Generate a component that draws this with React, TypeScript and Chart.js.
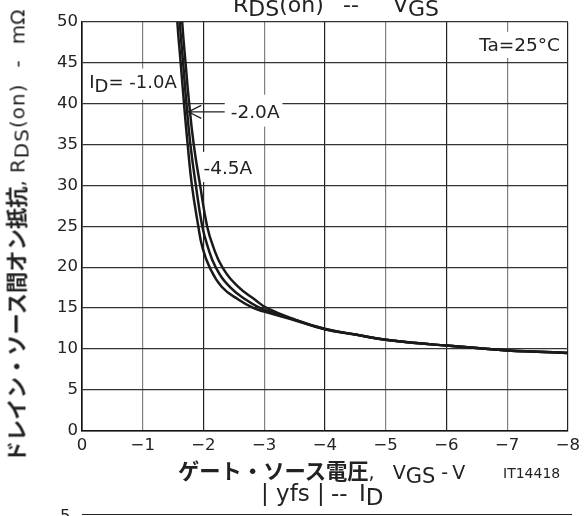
import React, { useEffect, useRef } from "react";
import { Chart, registerables } from "chart.js";

Chart.register(...registerables);

// Curve ID = -1.0A
const vgs1A = [-1.53, -1.57, -1.625, -1.68, -1.74, -1.81, -1.915, -1.98, -2.1, -2.3, -2.58, -2.82, -3.0, -3.5, -4.0, -4.5, -5.0, -5.5, -6.0, -6.5, -7.0, -7.5, -8.0];
const rds1A = [56, 50, 45, 40, 35, 30, 25, 22.5, 20, 17.6, 16, 15, 14.55, 13.5, 12.4, 11.75, 11.1, 10.7, 10.4, 10.1, 9.8, 9.65, 9.5];
// Curve ID = -2.0A
const vgs2A = [-1.57, -1.61, -1.665, -1.72, -1.785, -1.875, -1.98, -2.07, -2.2, -2.43, -2.7, -2.93, -3.0, -3.5, -4.0, -4.5, -5.0, -5.5, -6.0, -6.5, -7.0, -7.5, -8.0];
const rds2A = [56, 50, 45, 40, 35, 30, 25, 22.5, 20, 17.6, 16, 15, 14.8, 13.55, 12.4, 11.75, 11.1, 10.7, 10.4, 10.1, 9.8, 9.65, 9.5];
// Curve ID = -4.5A
const vgs45A = [-1.61, -1.65, -1.705, -1.765, -1.84, -1.945, -2.06, -2.16, -2.31, -2.57, -2.85, -3.04, -3.5, -4.0, -4.5, -5.0, -5.5, -6.0, -6.5, -7.0, -7.5, -8.0];
const rds45A = [56, 50, 45, 40, 35, 30, 25, 22.5, 20, 17.6, 16, 15, 13.6, 12.45, 11.75, 11.1, 10.7, 10.4, 10.1, 9.8, 9.65, 9.5];

const xTicks = [0, -1, -2, -3, -4, -5, -6, -7, -8];
const yTicks = [0, 5, 10, 15, 20, 25, 30, 35, 40, 45, 50];

const FONT = '"DejaVu Sans", Verdana, sans-serif';
const JP = '"Noto Sans CJK JP", "Noto Sans CJK SC", sans-serif';

const labelPlugin = {
  id: "curveLabels",
  beforeDatasetsDraw(chart: any) {
    const { ctx } = chart;
    const xs = chart.scales.x;
    const ys = chart.scales.y;
    const px = (v: number) => xs.getPixelForValue(v);
    const py = (v: number) => ys.getPixelForValue(v);
    ctx.save();
    ctx.fillStyle = "#fff";
    // ID = -1.0A box
    const b1x = px(-0.03), b1y = py(44.3);
    ctx.fillRect(b1x, b1y, px(-1.57) - b1x, py(40.5) - b1y);
    // -2.0A box
    const b2x = px(-2.35), b2y = py(41.1);
    ctx.fillRect(b2x, b2y, px(-3.3) - b2x, py(37.2) - b2y);
    // -4.5A box
    const b3x = px(-1.9), b3y = py(34.1);
    ctx.fillRect(b3x, b3y, px(-2.9) - b3x, py(30.4) - b3y);
    // Ta box
    const b4x = px(-6.3), b4y = py(48.8);
    ctx.fillRect(b4x, b4y, px(-7.97) - b4x, py(45.6) - b4y);

    ctx.fillStyle = "#222";
    ctx.textBaseline = "alphabetic";
    ctx.textAlign = "left";
    // ID= -1.0A
    ctx.font = `18px ${FONT}`;
    let x = px(-0.12);
    const yb1 = py(41.9);
    ctx.fillText("I", x, yb1);
    x += ctx.measureText("I").width;
    ctx.fillText("D", x, yb1 + 4);
    x += ctx.measureText("D").width;
    ctx.fillText("= -1.0A", x, yb1);
    // -2.0A
    ctx.font = `18.5px ${FONT}`;
    ctx.fillText("-2.0A", px(-2.45), py(38.3));
    // -4.5A
    ctx.fillText("-4.5A", px(-2.0), py(31.45));
    // Ta=25°C
    ctx.textAlign = "right";
    ctx.fillText("Ta=25°C", px(-7.87), py(46.4));

    // leader + arrow for -2.0A
    ctx.strokeStyle = "#222";
    ctx.lineWidth = 1.2;
    const ay = py(39.0);
    const ax = px(-1.75);
    ctx.beginPath();
    ctx.moveTo(ax, ay);
    ctx.lineTo(px(-2.35), ay);
    ctx.moveTo(ax + 13, ay - 6.5);
    ctx.lineTo(ax, ay);
    ctx.lineTo(ax + 13, ay + 6.5);
    ctx.stroke();
    ctx.restore();
  },
};

export default function App() {
  const ref = useRef<HTMLCanvasElement | null>(null);
  useEffect(() => {
    if (!ref.current) return;
    const mk = (xs: number[], ys: number[]) => xs.map((v, i) => ({ x: v, y: ys[i] }));
    const ds = (label: string, data: any[]) => ({
      label,
      data,
      borderColor: "#1a1a1a",
      borderWidth: 2.5,
      pointRadius: 0,
      tension: 0.45,
      fill: false,
    });
    const chart = new Chart(ref.current, {
      type: "line",
      data: {
        datasets: [
          ds("-1.0A", mk(vgs1A, rds1A)),
          ds("-2.0A", mk(vgs2A, rds2A)),
          ds("-4.5A", mk(vgs45A, rds45A)),
        ],
      },
      options: {
        animation: false,
        responsive: false,
        devicePixelRatio: 1,
        layout: { padding: { left: 0, top: 22, right: 13, bottom: 0 } },
        plugins: { legend: { display: false }, tooltip: { enabled: false }, title: { display: false } },
        scales: {
          x: {
            type: "linear",
            reverse: true,
            min: -8,
            max: 0,
            afterBuildTicks: (s: any) => {
              s.ticks = xTicks.map((v) => ({ value: v }));
            },
            afterFit: (s: any) => {
              s.height = 85.5;
            },
            ticks: {
              padding: 5,
              color: "#222",
              font: { family: FONT, size: 16.5 },
              maxRotation: 0,
              callback: (v: any) => (Number(v) === 0 ? "0" : "\u2212" + Math.abs(Number(v))),
            },
            grid: {
              drawTicks: false,
              color: (c: any) => (c.tick && Math.abs(c.tick.value) % 2 === 1 ? "#808080" : "#222"),
              lineWidth: 1.2,
            },
            border: { display: true, color: "#111", width: 1.6 },
          },
          y: {
            type: "linear",
            min: 0,
            max: 50,
            afterBuildTicks: (s: any) => {
              s.ticks = yTicks.map((v) => ({ value: v }));
            },
            afterFit: (s: any) => {
              s.width = 82;
            },
            ticks: {
              padding: 4,
              color: "#222",
              font: { family: FONT, size: 16.5 },
            },
            grid: { drawTicks: false, color: "#333", lineWidth: 1.2 },
            border: { display: true, color: "#111", width: 1.6 },
          },
        },
      },
      plugins: [labelPlugin],
    });
    return () => chart.destroy();
  }, []);

  const abs = (s: React.CSSProperties): React.CSSProperties => ({ position: "absolute", whiteSpace: "nowrap", lineHeight: 1, color: "#222", ...s });
  const sub: React.CSSProperties = { position: "relative", top: "0.18em" };
  const jp: React.CSSProperties = { fontFamily: JP, fontWeight: 700, fontSize: 21.3, lineHeight: "0.8" };

  return (
    <div style={{ position: "absolute", left: 0, top: 0, width: 585, height: 516, overflow: "hidden", background: "#fff", fontFamily: FONT }}>
      <canvas ref={ref} width={585} height={516} style={{ position: "absolute", left: 0, top: 0, width: 585, height: 516 }} />
      {/* top title (cut off at the top) */}
      <div style={abs({ left: 233, top: -5.6, fontSize: 22 })}>
        R<span style={sub}>DS</span>(on)
      </div>
      <div style={abs({ left: 343, top: -5.6, fontSize: 22 })}>--</div>
      <div style={abs({ left: 393, top: -5.6, fontSize: 22 })}>
        V<span style={sub}>GS</span>
      </div>
      {/* x-axis title */}
      <div style={abs({ left: 178, top: 461, fontSize: 19 })}>
        <span style={jp}>ゲート・ソース電圧</span>,
        <span style={{ marginLeft: 18 }}>V</span>
        <span style={{ ...sub, fontSize: 21 }}>GS</span>
        <span style={{ marginLeft: 6 }}>-</span>
        <span style={{ marginLeft: 4 }}>V</span>
      </div>
      <div style={abs({ left: 503, top: 465.5, fontSize: 14 })}>IT14418</div>
      {/* y-axis title */}
      <div
        style={abs({
          left: 17,
          top: 236,
          fontSize: 20,
          transform: "translate(-50%, -50%) rotate(-90deg)",
        })}
      >
        <span style={jp}>ドレイン・ソース間オン抵抗</span>,
        <span style={{ marginLeft: 7, letterSpacing: 1 }}>
          R<span style={sub}>DS</span>(on)
        </span>
        <span style={{ marginLeft: 16, marginRight: 16 }}>-</span>
        <span>mΩ</span>
      </div>
      {/* title of the next chart (partly visible) */}
      <div style={abs({ left: 261, top: 482, fontSize: 23 })}>| yfs |</div>
      <div style={abs({ left: 331, top: 482, fontSize: 23 })}>--</div>
      <div style={abs({ left: 359, top: 482, fontSize: 23 })}>
        I<span style={sub}>D</span>
      </div>
      <div style={{ position: "absolute", left: 82, top: 514, width: 490, height: 0, borderTop: "1.5px solid #222" }} />
      <div style={abs({ left: 60, top: 508, fontSize: 16.5 })}>5</div>
    </div>
  );
}
